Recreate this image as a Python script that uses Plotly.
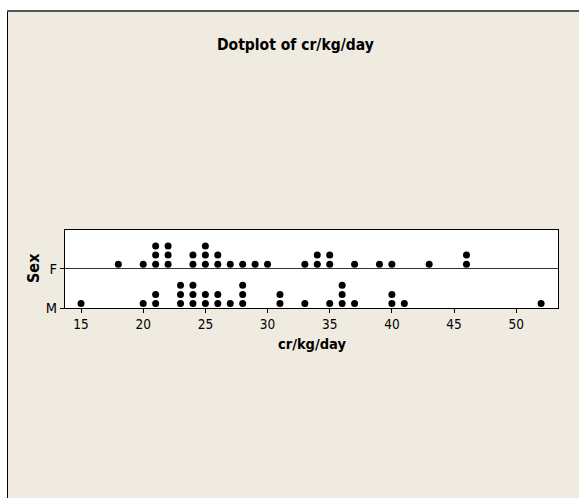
import plotly.graph_objects as go

# ---- data (value -> count of dots) ----
f_values = [18, 20, 21, 22, 24, 25, 26, 27, 28, 29, 30, 33, 34, 35, 37, 39, 40, 43, 46]
f_counts = [1, 1, 3, 3, 2, 3, 2, 1, 1, 1, 1, 1, 2, 2, 1, 1, 1, 1, 2]
m_values = [15, 20, 21, 23, 24, 25, 26, 27, 28, 31, 33, 35, 36, 37, 40, 41, 52]
m_counts = [1, 1, 2, 3, 3, 2, 2, 1, 3, 2, 1, 1, 3, 1, 2, 1, 1]
groups = ["M", "F"]
x_ticks = [15, 20, 25, 30, 35, 40, 45, 50]

W, H = 579, 498
L, R, T, B = 65, 21, 230, 190
PW, PH = W - L - R, H - T - B
FONT = "DejaVu Sans Condensed, DejaVu Sans, sans-serif"

def px(x):
    return (x - L) / PW

def py(y):
    return (H - B - y) / PH

Y_TOP = 1.985
DOT0 = 0.115
DOTSTEP = 0.231

def stack(values, counts, base):
    xs, ys = [], []
    for v, c in zip(values, counts):
        for k in range(c):
            xs.append(v)
            ys.append(base + DOT0 + DOTSTEP * k)
    return xs, ys

fig = go.Figure()
for gi, (vals, cnts) in enumerate([(m_values, m_counts), (f_values, f_counts)]):
    xs, ys = stack(vals, cnts, gi)
    fig.add_trace(go.Scatter(x=xs, y=ys, mode="markers",
                             marker=dict(color="black", size=7),
                             showlegend=False, hoverinfo="x"))

shapes = [
    # white strips outside the beige frame
    dict(type="rect", xref="paper", yref="paper", x0=px(-5), x1=px(7), y0=py(-5), y1=py(H + 5),
         fillcolor="white", line=dict(width=0), layer="above"),
    dict(type="rect", xref="paper", yref="paper", x0=px(-5), x1=px(W + 5), y0=py(-5), y1=py(10),
         fillcolor="white", line=dict(width=0), layer="above"),
    # frame lines
    dict(type="line", xref="paper", yref="paper", x0=px(7.5), x1=px(7.5), y0=py(10), y1=py(H + 5),
         line=dict(color="black", width=1), layer="above"),
    dict(type="line", xref="paper", yref="paper", x0=px(7), x1=px(W + 5), y0=py(11), y1=py(11),
         line=dict(color="#555555", width=2), layer="above"),
]

annotations = [
    dict(text="<b>Dotplot of cr/kg/day</b>", xref="paper", yref="paper", x=px(295), y=py(45),
         xanchor="center", yanchor="middle", showarrow=False, font=dict(family=FONT, size=15.5, color="black")),
    dict(text="<b>cr/kg/day</b>", xref="paper", yref="paper", x=px(312), y=py(344),
         xanchor="center", yanchor="middle", showarrow=False, font=dict(family=FONT, size=14.5, color="black")),
    dict(text="<b>Sex</b>", xref="paper", yref="paper", x=px(33.5), y=py(268.5), textangle=-90,
         xanchor="center", yanchor="middle", showarrow=False, font=dict(family=FONT, size=16, color="black")),
]

fig.update_layout(
    width=W, height=H,
    margin=dict(l=L, r=R, t=T, b=B, pad=0),
    paper_bgcolor="#F0EBE0",
    plot_bgcolor="white",
    font=dict(family=FONT, size=12, color="black"),
    shapes=shapes,
    annotations=annotations,
    xaxis=dict(range=[13.71, 53.36], tickvals=x_ticks, ticks="outside", ticklen=4, tickcolor="black",
               showgrid=False, zeroline=False, showline=True, linecolor="black", linewidth=1, mirror=True,
               tickfont=dict(family=FONT, size=13.5)),
    yaxis=dict(range=[0, Y_TOP], tickvals=[0, 1], ticktext=groups, ticks="outside", ticklen=4,
               tickcolor="black", showgrid=True, gridcolor="#333333", gridwidth=1, zeroline=False,
               showline=True, linecolor="black", linewidth=1, mirror=True,
               tickfont=dict(family=FONT, size=14.5)),
)

fig.write_html("out.html",
               config={"displayModeBar": False},
               post_script="document.body.style.margin='0px';document.body.style.padding='0px';")
